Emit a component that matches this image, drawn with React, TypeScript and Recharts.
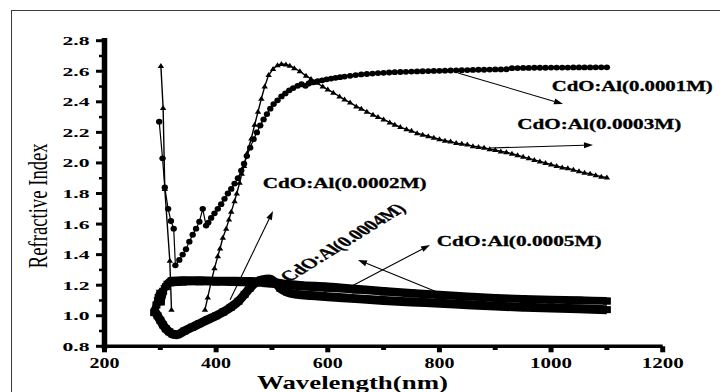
import React from 'react';
import { LineChart, Line, XAxis, YAxis, ReferenceLine, ReferenceDot } from 'recharts';

type Pt = [number, number | null];

// Axis ticks (majors get labels, minors are short marks)
const wavelengthTicks = [200, 300, 400, 500, 600, 700, 800, 900, 1000, 1100, 1200];
const indexTicks = [0.8, 0.9, 1.0, 1.1, 1.2, 1.3, 1.4, 1.5, 1.6, 1.7, 1.8, 1.9, 2.0, 2.1, 2.2, 2.3, 2.4, 2.5, 2.6, 2.7, 2.8];

// Refractive index vs wavelength (nm) for each Al concentration
const al0001: Pt[] = [
  [298, 2.27], [304, 2.03], [308, 1.84], [314, 1.70], [319, 1.62], [324, 1.57], [327, 1.33],
  [334, 1.365], [340, 1.40], [346, 1.435], [352, 1.485], [358, 1.53], [364, 1.57], [370, 1.615],
  [376, 1.70], [382, 1.59], [386, 1.61], [391, 1.64], [397, 1.67], [403, 1.70], [409, 1.73],
  [415, 1.765], [421, 1.80], [427, 1.83], [433, 1.865], [439, 1.90], [445, 1.95], [450, 1.995],
  [455, 2.045], [461, 2.10], [467, 2.155], [473, 2.20], [479, 2.245], [485, 2.285], [491, 2.32],
  [497, 2.355], [503, 2.385], [510, 2.41], [517, 2.435], [524, 2.455], [531, 2.475], [538, 2.49],
  [546, 2.505], [553, 2.515], [560, 2.505], [566, 2.52], [574, 2.528], [582, 2.535], [590, 2.541],
  [598, 2.547], [606, 2.552], [614, 2.557], [622, 2.561], [630, 2.565], [640, 2.57], [650, 2.575],
  [660, 2.579], [670, 2.582], [680, 2.585], [690, 2.588], [700, 2.59], [710, 2.592], [720, 2.594],
  [730, 2.595], [740, 2.596], [750, 2.598], [760, 2.599], [770, 2.6], [780, 2.601], [790, 2.602],
  [800, 2.603], [810, 2.604], [820, 2.605], [830, 2.606], [840, 2.607], [850, 2.608], [860, 2.609],
  [870, 2.61], [880, 2.61], [890, 2.611], [900, 2.612], [910, 2.612], [920, 2.613], [930, 2.62],
  [940, 2.621], [950, 2.622], [960, 2.622], [970, 2.623], [980, 2.623], [990, 2.623], [1000, 2.624],
  [1010, 2.624], [1020, 2.624], [1030, 2.624], [1040, 2.625], [1050, 2.625], [1060, 2.625],
  [1070, 2.625], [1080, 2.626], [1090, 2.626], [1100, 2.626],
];

const al0003: Pt[] = [
  [301, 2.635], [305, 2.36], [308, 1.83], [317, 1.36], [320, 1.04], [350, null],
  [380, 1.04], [385, 1.12], [391, 1.22], [397, 1.31], [403, 1.39], [407, 1.44], [412, 1.51],
  [418, 1.57], [423, 1.63], [427, 1.68], [433, 1.75], [437, 1.80], [442, 1.87], [446, 1.93],
  [450, 1.98], [455, 2.06], [463, 2.16], [469, 2.25], [475, 2.335], [481, 2.42], [487, 2.50],
  [494, 2.575], [502, 2.615], [510, 2.64], [517, 2.647], [525, 2.645], [532, 2.636], [540, 2.62],
  [550, 2.60], [561, 2.57], [570, 2.55], [580, 2.525], [591, 2.50], [600, 2.48], [610, 2.46],
  [621, 2.435], [630, 2.415], [640, 2.395], [651, 2.37], [660, 2.355], [670, 2.335], [681, 2.315],
  [690, 2.30], [700, 2.285], [711, 2.265], [720, 2.25], [730, 2.235], [741, 2.22], [750, 2.21],
  [760, 2.195], [770, 2.185], [780, 2.175], [790, 2.165], [800, 2.155], [810, 2.145], [820, 2.14],
  [830, 2.13], [840, 2.125], [850, 2.12], [860, 2.11], [870, 2.105], [880, 2.10], [890, 2.09],
  [900, 2.085], [910, 2.075], [920, 2.07], [930, 2.06], [940, 2.05], [950, 2.04], [960, 2.03],
  [970, 2.02], [980, 2.01], [990, 2.00], [1000, 1.99], [1010, 1.98], [1020, 1.97], [1030, 1.965],
  [1040, 1.955], [1050, 1.945], [1060, 1.935], [1070, 1.93], [1080, 1.92], [1090, 1.91], [1100, 1.905],
];

const al0002: Pt[] = [
  [290, 1.03], [295, 1.00], [300, 0.97], [305, 0.94], [310, 0.915], [316, 0.895], [322, 0.88],
  [330, 0.876], [343, 0.90], [357, 0.925], [370, 0.948], [385, 0.975], [400, 1.00], [413, 1.025],
  [426, 1.055], [440, 1.095], [451, 1.14], [460, 1.18], [470, 1.215], [482, 1.235], [495, 1.24],
  [505, 1.22], [515, 1.18], [527, 1.155], [545, 1.14], [570, 1.132], [600, 1.125], [650, 1.112],
  [700, 1.10], [750, 1.09], [800, 1.082], [850, 1.072], [900, 1.063], [950, 1.056], [1000, 1.05],
  [1050, 1.045], [1100, 1.04],
];

const al0004: Pt[] = [
  [291, 1.04], [295, 1.10], [299, 1.15], [303, 1.12], [307, 1.18], [312, 1.21], [320, 1.232],
  [340, 1.235], [370, 1.235], [400, 1.233], [430, 1.232], [460, 1.23], [490, 1.225], [520, 1.215],
  [550, 1.205], [600, 1.195], [650, 1.18], [700, 1.165], [750, 1.152], [800, 1.14], [850, 1.13],
  [900, 1.12], [950, 1.113], [1000, 1.108], [1050, 1.104], [1100, 1.10],
];

const al0005: Pt[] = [
  [289, 1.02], [293, 1.07], [297, 1.12], [301, 1.09], [305, 1.16], [310, 1.19], [318, 1.215],
  [340, 1.22], [370, 1.222], [400, 1.22], [430, 1.218], [460, 1.215], [490, 1.21], [520, 1.20],
  [550, 1.19], [600, 1.18], [650, 1.168], [700, 1.155], [750, 1.143], [800, 1.132], [850, 1.122],
  [900, 1.114], [950, 1.107], [1000, 1.102], [1050, 1.098], [1100, 1.095],
];

// Callout arrows (tail on curve -> head near its label), in data units
const arrowSegments = [
  { from: [833.3, 2.589], to: [1021.4, 2.386] },
  { from: [890.6, 2.098], to: [1075.1, 2.117] },
  { from: [424.8, 1.103], to: [501.9, 1.686] },
  { from: [639.8, 1.188], to: [783.1, 1.463] },
  { from: [795.6, 1.155], to: [654.1, 1.365] },
];

// Curve labels, anchored at the start of the text baseline
const curveLabels = [
  { text: 'CdO:Al(0.0001M)', wl: 1001.1, n: 2.474, len: 161 },
  { text: 'CdO:Al(0.0003M)', wl: 939.5, n: 2.22, len: 164 },
  { text: 'CdO:Al(0.0002M)', wl: 483.4, n: 1.834, len: 164 },
  { text: 'CdO:Al(0.0005M)', wl: 795.1, n: 1.456, len: 165 },
];
const slantedLabel = { text: 'CdO:Al(0.0004M)', wl: 636.2, n: 1.456, len: 105 };

const toRows = (pts: Pt[]) => pts.map(([wl, n]) => ({ wl, n }));

const SERIF = "'Liberation Serif', 'Times New Roman', serif";
const STRETCH = 1.56;

const circleDot = (p: any) =>
  p.cy == null ? <g key={`c${p.index}`} /> : (
    <ellipse key={`c${p.index}`} cx={p.cx} cy={p.cy} rx={3.2} ry={2.9} fill="#000" />
  );

const triangleDot = (p: any) =>
  p.cy == null ? <g key={`t${p.index}`} /> : (
    <path key={`t${p.index}`} d={`M${p.cx},${p.cy - 3} L${p.cx + 3.2},${p.cy + 2} L${p.cx - 3.2},${p.cy + 2} Z`} fill="#000" />
  );

const downTriangleDot = (p: any) =>
  p.cy == null ? <g key={`d${p.index}`} /> : (
    <path key={`d${p.index}`} d={`M${p.cx - 4},${p.cy - 3} L${p.cx + 4},${p.cy - 3} L${p.cx},${p.cy + 3.5} Z`} fill="#000" />
  );

const squareDot = (p: any) =>
  p.cy == null ? <g key={`s${p.index}`} /> : (
    <rect key={`s${p.index}`} x={p.cx - 4} y={p.cy - 3.5} width={8} height={7} fill="#000" />
  );

const XTick = (p: any) => {
  const v = p.payload.value;
  const major = v % 200 === 0;
  return (
    <g>
      <line x1={p.x} x2={p.x} y1={p.y} y2={p.y + (major ? 6 : 3.7)} stroke="#000" strokeWidth={5} />
      {major && (
        <text
          x={p.x}
          y={p.y + 22}
          textAnchor="middle"
          fontFamily={SERIF}
          fontWeight="bold"
          fontSize={14}
          fill="#000"
          textLength={String(v).length === 4 ? 42 : 30}
          lengthAdjust="spacingAndGlyphs"
        >
          {v}
        </text>
      )}
    </g>
  );
};

const YTick = (p: any) => {
  const tenths = Math.round(p.payload.value * 10);
  const major = tenths % 2 === 0;
  return (
    <g>
      <line x1={p.x - (major ? 8.5 : 5.5)} x2={p.x} y1={p.y} y2={p.y} stroke="#000" strokeWidth={major ? 3 : 2.5} />
      {major && (
        <text
          x={p.x - 15}
          y={p.y + 4.5}
          textAnchor="end"
          fontFamily={SERIF}
          fontWeight="bold"
          fontSize={12.5}
          fill="#000"
          textLength={27}
          lengthAdjust="spacingAndGlyphs"
        >
          {(tenths / 10).toFixed(1)}
        </text>
      )}
    </g>
  );
};

const arrowShape = (p: any) => {
  const { x1, y1, x2, y2 } = p;
  const a = Math.atan2(y2 - y1, x2 - x1);
  const L = 9;
  const w = 3;
  const bx = x2 - L * Math.cos(a);
  const by = y2 - L * Math.sin(a);
  const pts = `${x2},${y2} ${bx + w * Math.sin(a)},${by - w * Math.cos(a)} ${bx - w * Math.sin(a)},${by + w * Math.cos(a)}`;
  return (
    <g>
      <line x1={x1} y1={y1} x2={bx} y2={by} stroke="#000" strokeWidth={1.1} />
      <polygon points={pts} fill="#000" />
    </g>
  );
};

const labelShape = (text: string, len: number) => (p: any) => (
  <text
    x={p.cx}
    y={p.cy}
    fontFamily={SERIF}
    fontWeight="bold"
    fontSize={14.5}
    fill="#000"
    stroke="#000"
    strokeWidth={0.3}
    textLength={len}
    lengthAdjust="spacingAndGlyphs"
  >
    {text}
  </text>
);

const slantedShape = (p: any) => (
  <text
    transform={`translate(${p.cx},${p.cy}) scale(${STRETCH},1) rotate(-44)`}
    textAnchor="middle"
    fontFamily={SERIF}
    fontWeight="bold"
    fontSize={14.5}
    fill="#000"
    stroke="#000"
    strokeWidth={0.3}
    textLength={slantedLabel.len}
    lengthAdjust="spacingAndGlyphs"
  >
    {slantedLabel.text}
  </text>
);

export default function App() {
  return (
    <div style={{ position: 'absolute', left: 0, top: 0, width: 720, height: 392, overflow: 'hidden', background: '#fff' }}>
      {/* outer frame */}
      <div
        style={{
          position: 'absolute',
          left: 10.5,
          top: 9.5,
          width: 760,
          height: 420,
          borderLeft: '1.4px solid #3c3c3c',
          borderTop: '1.4px solid #3c3c3c',
        }}
      />
      <div style={{ position: 'absolute', left: 0, top: 0 }}>
        <LineChart width={720} height={392} margin={{ top: 40.7, right: 57.3, bottom: 15.7, left: 44.5 }}>
          <XAxis
            type="number"
            dataKey="wl"
            domain={[200, 1200]}
            ticks={wavelengthTicks}
            interval={0}
            allowDataOverflow
            height={30}
            tickSize={0}
            tickMargin={0}
            tickLine={false}
            axisLine={{ stroke: '#000', strokeWidth: 3.5 }}
            tick={XTick}
          />
          <YAxis
            type="number"
            domain={[0.8, 2.8]}
            ticks={indexTicks}
            interval={0}
            allowDataOverflow
            width={60}
            tickSize={0}
            tickMargin={0}
            tickLine={false}
            axisLine={{ stroke: '#000', strokeWidth: 5.5, strokeLinecap: 'square' }}
            tick={YTick}
          />
          <Line data={toRows(al0002)} dataKey="n" type="monotone" stroke="#000" strokeWidth={9} strokeLinejoin="round" dot={squareDot} activeDot={false} isAnimationActive={false} />
          <Line data={toRows(al0005)} dataKey="n" type="monotone" stroke="#000" strokeWidth={7} strokeLinejoin="round" dot={squareDot} activeDot={false} isAnimationActive={false} />
          <Line data={toRows(al0004)} dataKey="n" type="monotone" stroke="#000" strokeWidth={7} strokeLinejoin="round" dot={downTriangleDot} activeDot={false} isAnimationActive={false} />
          <Line data={toRows(al0003)} dataKey="n" type="linear" stroke="#000" strokeWidth={1.4} dot={triangleDot} activeDot={false} isAnimationActive={false} />
          <Line data={toRows(al0001)} dataKey="n" type="linear" stroke="#000" strokeWidth={1.2} dot={circleDot} activeDot={false} isAnimationActive={false} />
          {arrowSegments.map((s, i) => (
            <ReferenceLine
              key={`arrow${i}`}
              segment={[{ x: s.from[0], y: s.from[1] }, { x: s.to[0], y: s.to[1] }]}
              shape={arrowShape}
            />
          ))}
          {curveLabels.map((l) => (
            <ReferenceDot key={l.text} x={l.wl} y={l.n} shape={labelShape(l.text, l.len)} />
          ))}
          <ReferenceDot x={slantedLabel.wl} y={slantedLabel.n} shape={slantedShape} />
        </LineChart>
      </div>
      <svg width={720} height={392} style={{ position: 'absolute', left: 0, top: 0, pointerEvents: 'none' }}>
        <text
          transform={`translate(46.5,205.8) scale(${STRETCH},1) rotate(-90)`}
          textAnchor="middle"
          fontFamily={SERIF}
          fontSize={17.5}
          fill="#000"
          textLength={125}
          lengthAdjust="spacingAndGlyphs"
        >
          Refractive Index
        </text>
        <text
          x={352.5}
          y={389.3}
          textAnchor="middle"
          fontFamily={SERIF}
          fontWeight="bold"
          fontSize={19}
          fill="#000"
          textLength={191}
          lengthAdjust="spacingAndGlyphs"
        >
          Wavelength(nm)
        </text>
      </svg>
    </div>
  );
}
